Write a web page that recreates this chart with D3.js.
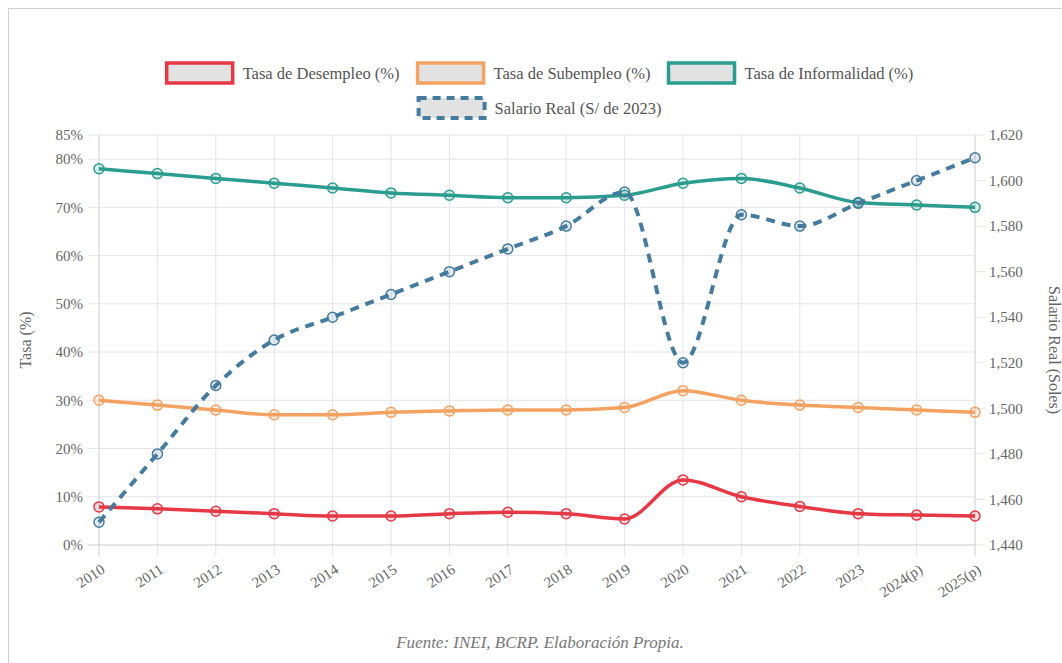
<!DOCTYPE html>
<html>
<head>
<meta charset="utf-8">
<script src="https://cdn.jsdelivr.net/npm/d3@7"></script>
<style>
  body { margin: 0; background: #fff; }
  svg { display: block; font-family: "Liberation Serif", "DejaVu Serif", serif; }
</style>
</head>
<body>
<div id="chart"></div>
<script>
var w = 1062;
var h = 663;

var years = ["2010", "2011", "2012", "2013", "2014", "2015", "2016", "2017",
             "2018", "2019", "2020", "2021", "2022", "2023", "2024(p)", "2025(p)"];
var desempleo = [7.9, 7.5, 7.0, 6.5, 6.0, 6.0, 6.5, 6.8, 6.5, 5.4, 13.5, 10.0, 8.0, 6.5, 6.2, 6.0];
var subempleo = [30.0, 29.0, 28.0, 27.0, 27.0, 27.5, 27.8, 28.0, 28.0, 28.5, 32.0, 30.0, 29.0, 28.5, 28.0, 27.5];
var informalidad = [78.0, 77.0, 76.0, 75.0, 74.0, 73.0, 72.5, 72.0, 72.0, 72.5, 75.0, 76.0, 74.0, 71.0, 70.5, 70.0];
var salario = [1450, 1480, 1510, 1530, 1540, 1550, 1560, 1570, 1580, 1595, 1520, 1585, 1580, 1590, 1600, 1610];
var leftTicks = [0, 10, 20, 30, 40, 50, 60, 70, 80, 85];
var rightTicks = [1440, 1460, 1480, 1500, 1520, 1540, 1560, 1580, 1600, 1620];

var series = [
  { name: "Tasa de Desempleo (%)", values: desempleo, color: "#e63946", axis: "left" },
  { name: "Tasa de Subempleo (%)", values: subempleo, color: "#f4a261", axis: "left" },
  { name: "Tasa de Informalidad (%)", values: informalidad, color: "#2a9d8f", axis: "left" },
  { name: "Salario Real (S/ de 2023)", values: salario, color: "#457b9d", axis: "right", dashed: true }
];

var svg = d3.select("#chart").append("svg")
  .attr("width", w)
  .attr("height", h);

// outer frame
svg.append("rect")
  .attr("x", 8.5).attr("y", 8.5)
  .attr("width", w + 20).attr("height", h + 20)
  .attr("fill", "none")
  .attr("stroke", "#cfcfcf");

var pLeft = 99, pRight = 975, pTop = 135, pBottom = 545;

var xScale = d3.scalePoint().domain(years).range([pLeft, pRight]);
var yLeft = d3.scaleLinear().domain([0, 85]).range([pBottom, pTop]);
var yRight = d3.scaleLinear().domain([1440, 1620]).range([pBottom, pTop]);

// grid
var grid = svg.append("g");
grid.selectAll("line.v")
  .data(years)
  .enter().append("line")
  .attr("class", "v")
  .attr("x1", function(d) { return xScale(d); })
  .attr("x2", function(d) { return xScale(d); })
  .attr("y1", pTop).attr("y2", pBottom + 11)
  .attr("stroke", function(d, i) { return (i === 0 || i === years.length - 1) ? "#c9cad3" : "#e4e4ea"; })
  .attr("stroke-width", 1);

grid.selectAll("line.h")
  .data(leftTicks)
  .enter().append("line")
  .attr("class", "h")
  .attr("x1", pLeft - 11).attr("x2", pRight)
  .attr("y1", function(d) { return yLeft(d); })
  .attr("y2", function(d) { return yLeft(d); })
  .attr("stroke", function(d) { return d === 0 ? "#c9cad3" : "#e4e4ea"; })
  .attr("stroke-width", 1);

// right tick marks
grid.selectAll("line.rt")
  .data(rightTicks)
  .enter().append("line")
  .attr("class", "rt")
  .attr("x1", pRight).attr("x2", pRight + 10)
  .attr("y1", function(d) { return yRight(d); })
  .attr("y2", function(d) { return yRight(d); })
  .attr("stroke", "#e4e4ea");

// tick labels
svg.selectAll("text.lt")
  .data(leftTicks)
  .enter().append("text")
  .attr("class", "lt")
  .attr("x", pLeft - 16)
  .attr("y", function(d) { return yLeft(d); })
  .attr("dy", "0.35em")
  .attr("text-anchor", "end")
  .attr("font-size", 15)
  .attr("fill", "#666")
  .text(function(d) { return d + "%"; });

svg.selectAll("text.rtl")
  .data(rightTicks)
  .enter().append("text")
  .attr("class", "rtl")
  .attr("x", pRight + 14)
  .attr("y", function(d) { return yRight(d); })
  .attr("dy", "0.35em")
  .attr("font-size", 15)
  .attr("fill", "#666")
  .text(function(d) { return d3.format(",")(d); });

svg.selectAll("text.xt")
  .data(years)
  .enter().append("text")
  .attr("class", "xt")
  .attr("transform", function(d) { return "translate(" + (xScale(d) + 7) + "," + (pBottom + 27) + ") rotate(-33)"; })
  .attr("text-anchor", "end")
  .attr("font-size", 15)
  .attr("fill", "#666")
  .text(function(d) { return d; });

// axis titles
svg.append("text")
  .attr("transform", "translate(31," + ((pTop + pBottom) / 2) + ") rotate(-90)")
  .attr("text-anchor", "middle")
  .attr("font-size", 16)
  .attr("fill", "#666")
  .text("Tasa (%)");

svg.append("text")
  .attr("transform", "translate(1049," + ((pTop + pBottom) / 2 + 10) + ") rotate(90)")
  .attr("text-anchor", "middle")
  .attr("font-size", 16)
  .attr("fill", "#666")
  .text("Salario Real (Soles)");

// lines
series.forEach(function(s) {
  var yS = s.axis === "left" ? yLeft : yRight;
  var line = d3.line()
    .x(function(d, i) { return xScale(years[i]); })
    .y(function(d) { return yS(d); })
    .curve(d3.curveMonotoneX);

  svg.append("path")
    .datum(s.values)
    .attr("d", line)
    .attr("fill", "none")
    .attr("stroke", s.color)
    .attr("stroke-width", s.dashed ? 4 : 3.5)
    .attr("stroke-dasharray", s.dashed ? "9,7" : null);

  svg.append("g").selectAll("circle")
    .data(s.values)
    .enter().append("circle")
    .attr("cx", function(d, i) { return xScale(years[i]); })
    .attr("cy", function(d) { return yS(d); })
    .attr("r", 5)
    .attr("fill", s.color)
    .attr("fill-opacity", 0.15)
    .attr("stroke", s.color)
    .attr("stroke-width", 1.5);
});

// legend
var rows = [[series[0], series[1], series[2]], [series[3]]];
var boxW = 66, boxH = 20, cx = 540;
rows.forEach(function(row, r) {
  var y = 73 + r * 35;
  var g = svg.append("g");
  var x = 0;
  row.forEach(function(s) {
    var item = g.append("g").attr("transform", "translate(" + x + ",0)");
    item.append("rect")
      .attr("x", 0).attr("y", y - boxH / 2)
      .attr("width", boxW).attr("height", boxH)
      .attr("fill", "#e2e2e2")
      .attr("stroke", s.color)
      .attr("stroke-width", s.dashed ? 4 : 3.5)
      .attr("stroke-dasharray", s.dashed ? "8,6" : null);
    var t = item.append("text")
      .attr("x", boxW + 10).attr("y", y)
      .attr("dy", "0.35em")
      .attr("font-size", 16.5)
      .attr("fill", "#555")
      .text(s.name);
    x += boxW + 10 + t.node().getComputedTextLength() + 18;
  });
  var total = x - 18;
  g.attr("transform", "translate(" + (cx - total / 2) + ",0)");
});

// footer
svg.append("text")
  .attr("x", 540).attr("y", 648)
  .attr("text-anchor", "middle")
  .attr("font-size", 17)
  .attr("font-style", "italic")
  .attr("fill", "#777")
  .text("Fuente: INEI, BCRP. Elaboración Propia.");
</script>
</body>
</html>
